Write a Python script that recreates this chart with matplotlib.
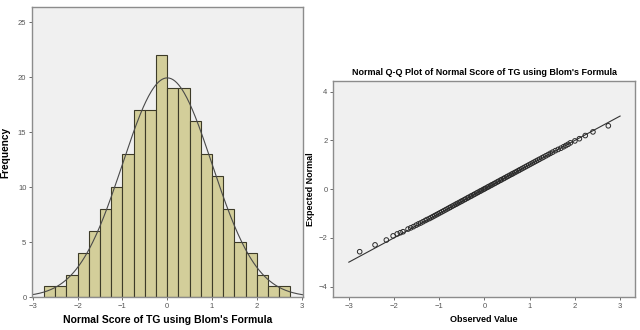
import numpy as np
import matplotlib
matplotlib.use("Agg")
import matplotlib.pyplot as plt

# histogram: bin edges and counts (N = 200)
bin_edges = [-2.75, -2.5, -2.25, -2.0, -1.75, -1.5, -1.25, -1.0, -0.75, -0.5, -0.25,
             0.0, 0.25, 0.5, 0.75, 1.0, 1.25, 1.5, 1.75, 2.0, 2.25, 2.5, 2.75]
counts = [1, 1, 2, 4, 6, 8, 10, 13, 17, 17, 22, 19, 19, 16, 13, 11, 8, 5, 4, 2, 1, 1]
n_total = 200
hist_mean = 0.0
hist_sd = 1.0

# Q-Q plot points (observed value, expected normal)
observed = [-2.76, -2.42, -2.17, -2.02, -1.93, -1.86, -1.80, -1.69, -1.63, -1.57,
            -1.51, -1.46, -1.41, -1.36, -1.31, -1.27, -1.22, -1.18, -1.14, -1.10,
            -1.06, -1.02, -0.98, -0.94, -0.90, -0.86, -0.82, -0.78, -0.75, -0.71,
            -0.67, -0.63, -0.60, -0.56, -0.52, -0.49, -0.45, -0.42, -0.38, -0.35,
            -0.31, -0.28, -0.24, -0.21, -0.17, -0.14, -0.10, -0.07, -0.03, 0.00,
            0.03, 0.07, 0.10, 0.14, 0.17, 0.21, 0.24, 0.28, 0.31, 0.35,
            0.38, 0.42, 0.45, 0.49, 0.52, 0.56, 0.60, 0.63, 0.67, 0.71,
            0.75, 0.78, 0.82, 0.86, 0.90, 0.94, 0.98, 1.02, 1.06, 1.10,
            1.14, 1.18, 1.22, 1.27, 1.31, 1.36, 1.41, 1.46, 1.51, 1.57,
            1.63, 1.69, 1.75, 1.80, 1.85, 1.90, 2.00, 2.10, 2.23, 2.40, 2.74]
expected = [-2.57, -2.29, -2.09, -1.92, -1.84, -1.79, -1.75, -1.64, -1.59, -1.54,
            -1.48, -1.43, -1.39, -1.34, -1.29, -1.25, -1.21, -1.17, -1.13, -1.09,
            -1.05, -1.01, -0.97, -0.93, -0.89, -0.85, -0.81, -0.77, -0.74, -0.70,
            -0.66, -0.62, -0.59, -0.55, -0.51, -0.48, -0.44, -0.41, -0.37, -0.34,
            -0.30, -0.27, -0.23, -0.20, -0.16, -0.13, -0.09, -0.06, -0.02, 0.01,
            0.04, 0.08, 0.11, 0.15, 0.18, 0.22, 0.25, 0.29, 0.32, 0.36,
            0.39, 0.43, 0.46, 0.50, 0.53, 0.57, 0.61, 0.64, 0.68, 0.72,
            0.76, 0.79, 0.83, 0.87, 0.91, 0.95, 0.99, 1.03, 1.07, 1.11,
            1.15, 1.19, 1.23, 1.28, 1.32, 1.37, 1.42, 1.47, 1.52, 1.58,
            1.63, 1.68, 1.74, 1.79, 1.84, 1.90, 1.98, 2.07, 2.20, 2.35, 2.60]

bg = "#f0f0f0"
bar_fill = "#d3ce9a"
bar_edge = "#3d3b28"
frame = "#8c8c8c"
tick_col = "#555555"

plt.rcParams['font.family'] = ['Liberation Sans', 'DejaVu Sans']

fig = plt.figure(figsize=(6.4, 3.3), dpi=100)
fig.patch.set_facecolor("white")

def style_axes(ax):
    ax.set_facecolor(bg)
    for s in ax.spines.values():
        s.set_color(frame)
        s.set_linewidth(1.0)
    ax.tick_params(axis="both", labelsize=5.5, colors=tick_col, length=2.5, width=0.6, pad=1.5)

# ------- left: histogram
ax1 = fig.add_axes([32 / 640, 1 - 297 / 330, 271 / 640, 290 / 330])
style_axes(ax1)
widths = np.diff(bin_edges)
ax1.bar(bin_edges[:-1], counts, width=widths, align="edge", color=bar_fill,
        edgecolor=bar_edge, linewidth=0.8)
xs = np.linspace(-3.05, 3.05, 300)
bw = bin_edges[1] - bin_edges[0]
curve = n_total * bw / (hist_sd * np.sqrt(2 * np.pi)) * np.exp(-0.5 * ((xs - hist_mean) / hist_sd) ** 2)
ax1.plot(xs, curve, color="#4a4a4a", linewidth=0.8)
ax1.set_xlim(-3.02, 3.03)
ax1.set_ylim(0, 26.4)
ax1.set_xticks([-3, -2, -1, 0, 1, 2, 3])
ax1.set_yticks([0, 5, 10, 15, 20, 25])
ax1.set_ylabel("Frequency", fontsize=7.3, fontweight="bold")
ax1.yaxis.set_label_coords(-0.080, 0.5)
ax1.set_xlabel("Normal Score of TG using Blom's Formula", fontsize=7.5, fontweight="bold", labelpad=4)

# ------- right: normal Q-Q plot
ax2 = fig.add_axes([333 / 640, 1 - 297 / 330, 302 / 640, 216 / 330])
style_axes(ax2)
ax2.plot([-3, 3], [-3, 3], color="#333333", linewidth=0.8)
ax2.scatter(observed, expected, s=11, facecolors="none", edgecolors="#2a2a2a", linewidths=0.7, zorder=3)
ax2.set_xlim(-3.35, 3.33)
ax2.set_ylim(-4.43, 4.44)
ax2.set_xticks([-3, -2, -1, 0, 1, 2, 3])
ax2.set_yticks([-4, -2, 0, 2, 4])
ax2.set_title("Normal Q-Q Plot of Normal Score of TG using Blom's Formula",
              fontsize=6.5, fontweight="bold", pad=4)
ax2.set_xlabel("Observed Value", fontsize=6.5, fontweight="bold", labelpad=4)
ax2.set_ylabel("Expected Normal", fontsize=6.5, fontweight="bold")
ax2.yaxis.set_label_coords(-0.058, 0.5)

fig.savefig("out.png", dpi=100, facecolor="white")
